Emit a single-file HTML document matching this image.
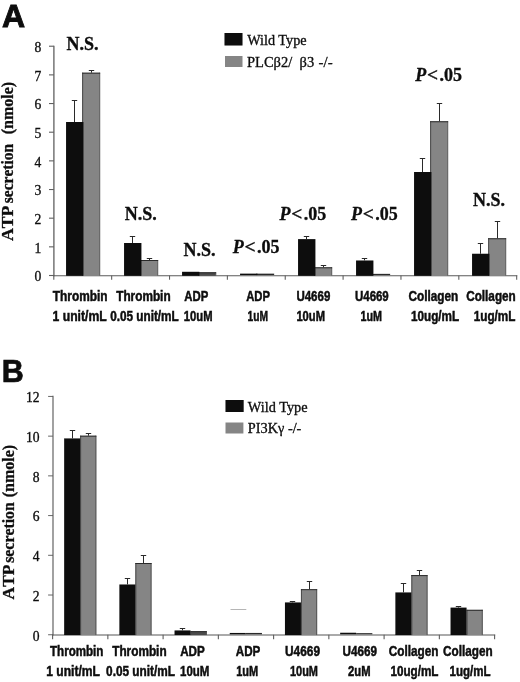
<!DOCTYPE html>
<html><head><meta charset="utf-8"><title>ATP secretion</title>
<style>html,body{margin:0;padding:0;background:#fff;}body{width:520px;height:682px;overflow:hidden;}svg{display:block;}text{fill:#0a0a0a;}.sans{font-family:"Liberation Sans",sans-serif;stroke:#0a0a0a;stroke-width:0.45px;}.serif{font-family:"Liberation Serif",serif;stroke:#0a0a0a;stroke-width:0.28px;}</style>
</head><body>
<svg width="520" height="682" viewBox="0 0 520 682">
<rect x="0" y="0" width="520" height="682" fill="#ffffff"/>
<defs><filter id="soft" x="0" y="0" width="520" height="682" filterUnits="userSpaceOnUse"><feGaussianBlur stdDeviation="0.45"/></filter></defs>
<g filter="url(#soft)">
<text x="1.9" y="27" class="sans" font-size="32" font-weight="bold" font-style="normal" text-anchor="start" style="stroke-width:0.9px">A</text>
<text x="1.7" y="381.5" class="sans" font-size="32" font-weight="bold" font-style="normal" text-anchor="start" textLength="22" lengthAdjust="spacingAndGlyphs" style="stroke-width:0.7px">B</text>
<line x1="53.9" x2="53.9" y1="45.699999999999996" y2="276.2" stroke="#606060" stroke-width="1.3"/>
<line x1="49.0" x2="53.9" y1="275.5" y2="275.5" stroke="#606060" stroke-width="1.1"/>
<text x="41.3" y="281.2" class="serif" font-size="13.6" font-weight="normal" font-style="normal" text-anchor="end">0</text>
<line x1="49.0" x2="53.9" y1="246.84" y2="246.84" stroke="#606060" stroke-width="1.1"/>
<text x="41.3" y="252.54" class="serif" font-size="13.6" font-weight="normal" font-style="normal" text-anchor="end">1</text>
<line x1="49.0" x2="53.9" y1="218.18" y2="218.18" stroke="#606060" stroke-width="1.1"/>
<text x="41.3" y="223.88" class="serif" font-size="13.6" font-weight="normal" font-style="normal" text-anchor="end">2</text>
<line x1="49.0" x2="53.9" y1="189.52" y2="189.52" stroke="#606060" stroke-width="1.1"/>
<text x="41.3" y="195.22" class="serif" font-size="13.6" font-weight="normal" font-style="normal" text-anchor="end">3</text>
<line x1="49.0" x2="53.9" y1="160.86" y2="160.86" stroke="#606060" stroke-width="1.1"/>
<text x="41.3" y="166.56" class="serif" font-size="13.6" font-weight="normal" font-style="normal" text-anchor="end">4</text>
<line x1="49.0" x2="53.9" y1="132.2" y2="132.2" stroke="#606060" stroke-width="1.1"/>
<text x="41.3" y="137.9" class="serif" font-size="13.6" font-weight="normal" font-style="normal" text-anchor="end">5</text>
<line x1="49.0" x2="53.9" y1="103.54" y2="103.54" stroke="#606060" stroke-width="1.1"/>
<text x="41.3" y="109.24" class="serif" font-size="13.6" font-weight="normal" font-style="normal" text-anchor="end">6</text>
<line x1="49.0" x2="53.9" y1="74.88" y2="74.88" stroke="#606060" stroke-width="1.1"/>
<text x="41.3" y="80.58" class="serif" font-size="13.6" font-weight="normal" font-style="normal" text-anchor="end">7</text>
<line x1="49.0" x2="53.9" y1="46.22" y2="46.22" stroke="#606060" stroke-width="1.1"/>
<text x="41.3" y="51.92" class="serif" font-size="13.6" font-weight="normal" font-style="normal" text-anchor="end">8</text>
<line x1="53.199999999999996" x2="517.28" y1="275.7" y2="275.7" stroke="#5a5a5a" stroke-width="1.05"/>
<line x1="53.8" x2="53.8" y1="275.5" y2="279.7" stroke="#606060" stroke-width="1.1"/>
<line x1="111.66" x2="111.66" y1="275.5" y2="279.7" stroke="#606060" stroke-width="1.1"/>
<line x1="169.52" x2="169.52" y1="275.5" y2="279.7" stroke="#606060" stroke-width="1.1"/>
<line x1="227.38" x2="227.38" y1="275.5" y2="279.7" stroke="#606060" stroke-width="1.1"/>
<line x1="285.24" x2="285.24" y1="275.5" y2="279.7" stroke="#606060" stroke-width="1.1"/>
<line x1="343.1" x2="343.1" y1="275.5" y2="279.7" stroke="#606060" stroke-width="1.1"/>
<line x1="400.96" x2="400.96" y1="275.5" y2="279.7" stroke="#606060" stroke-width="1.1"/>
<line x1="458.82" x2="458.82" y1="275.5" y2="279.7" stroke="#606060" stroke-width="1.1"/>
<line x1="516.68" x2="516.68" y1="275.5" y2="279.7" stroke="#606060" stroke-width="1.1"/>
<rect x="82.15" y="72.7" width="18.0" height="203.1" fill="#858585"/>
<line x1="82.65" x2="82.65" y1="275.8" y2="72.7" stroke="#4a4a4a" stroke-width="1"/>
<line x1="99.65" x2="99.65" y1="275.8" y2="72.7" stroke="#626262" stroke-width="0.9"/>
<line x1="82.15" x2="100.15" y1="73.2" y2="73.2" stroke="#2b2b2b" stroke-width="1"/>
<rect x="66.05" y="122.0" width="17.35" height="153.8" fill="#0c0c0c"/>
<path d="M74.5 122.0 V100.5 M71.8 100.5 H77.2" fill="none" stroke="#2a2a2a" stroke-width="1"/>
<path d="M91.5 72.7 V70.5 M88.8 70.5 H94.2" fill="none" stroke="#2a2a2a" stroke-width="1"/>
<rect x="140.15" y="260.0" width="18.0" height="15.8" fill="#858585"/>
<line x1="140.65" x2="140.65" y1="275.8" y2="260.0" stroke="#4a4a4a" stroke-width="1"/>
<line x1="157.65" x2="157.65" y1="275.8" y2="260.0" stroke="#626262" stroke-width="0.9"/>
<line x1="140.15" x2="158.15" y1="260.5" y2="260.5" stroke="#2b2b2b" stroke-width="1"/>
<rect x="124.05" y="243.0" width="17.35" height="32.8" fill="#0c0c0c"/>
<path d="M132.5 243.0 V236.5 M129.8 236.5 H135.2" fill="none" stroke="#2a2a2a" stroke-width="1"/>
<path d="M149.5 260.0 V258.5 M146.8 258.5 H152.2" fill="none" stroke="#2a2a2a" stroke-width="1"/>
<rect x="198.15" y="272.3" width="18.0" height="3.5" fill="#4c4c4c"/>
<line x1="198.65" x2="198.65" y1="275.8" y2="272.3" stroke="#4a4a4a" stroke-width="1"/>
<line x1="215.65" x2="215.65" y1="275.8" y2="272.3" stroke="#626262" stroke-width="0.9"/>
<line x1="198.15" x2="216.15" y1="272.8" y2="272.8" stroke="#2b2b2b" stroke-width="1"/>
<rect x="182.05" y="271.8" width="17.35" height="4.0" fill="#0c0c0c"/>
<rect x="256.15" y="273.65" width="18.0" height="1.4" fill="#2a2a2a"/>
<rect x="240.05" y="273.65" width="17.35" height="1.4" fill="#0c0c0c"/>
<rect x="314.15" y="267.3" width="18.0" height="8.5" fill="#858585"/>
<line x1="314.65" x2="314.65" y1="275.8" y2="267.3" stroke="#4a4a4a" stroke-width="1"/>
<line x1="331.65" x2="331.65" y1="275.8" y2="267.3" stroke="#626262" stroke-width="0.9"/>
<line x1="314.15" x2="332.15" y1="267.8" y2="267.8" stroke="#2b2b2b" stroke-width="1"/>
<rect x="298.05" y="239.1" width="17.35" height="36.7" fill="#0c0c0c"/>
<path d="M306.5 239.1 V236.5 M303.8 236.5 H309.2" fill="none" stroke="#2a2a2a" stroke-width="1"/>
<path d="M323.5 267.3 V265.5 M320.8 265.5 H326.2" fill="none" stroke="#2a2a2a" stroke-width="1"/>
<rect x="372.15" y="273.85" width="18.0" height="1.2" fill="#2a2a2a"/>
<rect x="356.05" y="260.5" width="17.35" height="15.3" fill="#0c0c0c"/>
<path d="M364.5 260.5 V258.5 M361.8 258.5 H367.2" fill="none" stroke="#2a2a2a" stroke-width="1"/>
<rect x="430.15" y="121.25" width="18.0" height="154.55" fill="#858585"/>
<line x1="430.65" x2="430.65" y1="275.8" y2="121.25" stroke="#4a4a4a" stroke-width="1"/>
<line x1="447.65" x2="447.65" y1="275.8" y2="121.25" stroke="#626262" stroke-width="0.9"/>
<line x1="430.15" x2="448.15" y1="121.75" y2="121.75" stroke="#2b2b2b" stroke-width="1"/>
<rect x="414.05" y="172.0" width="17.35" height="103.8" fill="#0c0c0c"/>
<path d="M422.5 172.0 V158.5 M419.8 158.5 H425.2" fill="none" stroke="#2a2a2a" stroke-width="1"/>
<path d="M439.5 121.25 V103.5 M436.8 103.5 H442.2" fill="none" stroke="#2a2a2a" stroke-width="1"/>
<rect x="488.15" y="238.25" width="18.0" height="37.55" fill="#858585"/>
<line x1="488.65" x2="488.65" y1="275.8" y2="238.25" stroke="#4a4a4a" stroke-width="1"/>
<line x1="505.65" x2="505.65" y1="275.8" y2="238.25" stroke="#626262" stroke-width="0.9"/>
<line x1="488.15" x2="506.15" y1="238.75" y2="238.75" stroke="#2b2b2b" stroke-width="1"/>
<rect x="472.05" y="253.75" width="17.35" height="22.05" fill="#0c0c0c"/>
<path d="M480.5 253.75 V243.5 M477.8 243.5 H483.2" fill="none" stroke="#2a2a2a" stroke-width="1"/>
<path d="M497.5 238.25 V221.5 M494.8 221.5 H500.2" fill="none" stroke="#2a2a2a" stroke-width="1"/>
<text x="52.8" y="300.5" class="sans" font-size="14" font-weight="bold" font-style="normal" text-anchor="start" textLength="54.7" lengthAdjust="spacingAndGlyphs">Thrombin</text>
<text x="52.6" y="320.5" class="sans" font-size="14" font-weight="bold" font-style="normal" text-anchor="start" textLength="54.1" lengthAdjust="spacingAndGlyphs">1 unit/mL</text>
<text x="116.2" y="300.5" class="sans" font-size="14" font-weight="bold" font-style="normal" text-anchor="start" textLength="54.4" lengthAdjust="spacingAndGlyphs">Thrombin</text>
<text x="110.2" y="320.5" class="sans" font-size="14" font-weight="bold" font-style="normal" text-anchor="start" textLength="68.5" lengthAdjust="spacingAndGlyphs">0.05 unit/mL</text>
<text x="184.3" y="300.5" class="sans" font-size="14" font-weight="bold" font-style="normal" text-anchor="start" textLength="24.0" lengthAdjust="spacingAndGlyphs">ADP</text>
<text x="183.75" y="320.5" class="sans" font-size="14" font-weight="bold" font-style="normal" text-anchor="start" textLength="28.75" lengthAdjust="spacingAndGlyphs">10uM</text>
<text x="246.25" y="300.5" class="sans" font-size="14" font-weight="bold" font-style="normal" text-anchor="start" textLength="23.75" lengthAdjust="spacingAndGlyphs">ADP</text>
<text x="247.5" y="320.5" class="sans" font-size="14" font-weight="bold" font-style="normal" text-anchor="start" textLength="20.5" lengthAdjust="spacingAndGlyphs">1uM</text>
<text x="296.4" y="300.5" class="sans" font-size="14" font-weight="bold" font-style="normal" text-anchor="start" textLength="33.9" lengthAdjust="spacingAndGlyphs">U4669</text>
<text x="296.4" y="320.5" class="sans" font-size="14" font-weight="bold" font-style="normal" text-anchor="start" textLength="28.6" lengthAdjust="spacingAndGlyphs">10uM</text>
<text x="355" y="300.5" class="sans" font-size="14" font-weight="bold" font-style="normal" text-anchor="start" textLength="33.75" lengthAdjust="spacingAndGlyphs">U4669</text>
<text x="360.5" y="320.5" class="sans" font-size="14" font-weight="bold" font-style="normal" text-anchor="start" textLength="21.5" lengthAdjust="spacingAndGlyphs">1uM</text>
<text x="408.5" y="300.5" class="sans" font-size="14" font-weight="bold" font-style="normal" text-anchor="start" textLength="49.7" lengthAdjust="spacingAndGlyphs">Collagen</text>
<text x="411.0" y="320.5" class="sans" font-size="14" font-weight="bold" font-style="normal" text-anchor="start" textLength="48.2" lengthAdjust="spacingAndGlyphs">10ug/mL</text>
<text x="466.2" y="300.5" class="sans" font-size="14" font-weight="bold" font-style="normal" text-anchor="start" textLength="49.6" lengthAdjust="spacingAndGlyphs">Collagen</text>
<text x="473.7" y="320.5" class="sans" font-size="14" font-weight="bold" font-style="normal" text-anchor="start" textLength="41.7" lengthAdjust="spacingAndGlyphs">1ug/mL</text>
<line x1="53.0" x2="53.0" y1="395.79999999999995" y2="635.45" stroke="#5e5e5e" stroke-width="1.15"/>
<line x1="48.1" x2="53.0" y1="634.75" y2="634.75" stroke="#5e5e5e" stroke-width="0.95"/>
<text x="39.6" y="640.55" class="serif" font-size="13.6" font-weight="normal" font-style="normal" text-anchor="end">0</text>
<line x1="48.1" x2="53.0" y1="595.03" y2="595.03" stroke="#5e5e5e" stroke-width="0.95"/>
<text x="39.6" y="600.83" class="serif" font-size="13.6" font-weight="normal" font-style="normal" text-anchor="end">2</text>
<line x1="48.1" x2="53.0" y1="555.31" y2="555.31" stroke="#5e5e5e" stroke-width="0.95"/>
<text x="39.6" y="561.11" class="serif" font-size="13.6" font-weight="normal" font-style="normal" text-anchor="end">4</text>
<line x1="48.1" x2="53.0" y1="515.59" y2="515.59" stroke="#5e5e5e" stroke-width="0.95"/>
<text x="39.6" y="521.39" class="serif" font-size="13.6" font-weight="normal" font-style="normal" text-anchor="end">6</text>
<line x1="48.1" x2="53.0" y1="475.87" y2="475.87" stroke="#5e5e5e" stroke-width="0.95"/>
<text x="39.6" y="481.67" class="serif" font-size="13.6" font-weight="normal" font-style="normal" text-anchor="end">8</text>
<line x1="48.1" x2="53.0" y1="436.15" y2="436.15" stroke="#5e5e5e" stroke-width="0.95"/>
<text x="39.6" y="441.95" class="serif" font-size="13.6" font-weight="normal" font-style="normal" text-anchor="end">10</text>
<line x1="48.1" x2="53.0" y1="396.43" y2="396.43" stroke="#5e5e5e" stroke-width="0.95"/>
<text x="39.6" y="402.23" class="serif" font-size="13.6" font-weight="normal" font-style="normal" text-anchor="end">12</text>
<line x1="52.3" x2="495.20000000000005" y1="634.95" y2="634.95" stroke="#585858" stroke-width="1.05"/>
<line x1="52.6" x2="52.6" y1="634.75" y2="639.35" stroke="#5e5e5e" stroke-width="1.1"/>
<line x1="107.85" x2="107.85" y1="634.75" y2="639.35" stroke="#5e5e5e" stroke-width="1.1"/>
<line x1="163.1" x2="163.1" y1="634.75" y2="639.35" stroke="#5e5e5e" stroke-width="1.1"/>
<line x1="218.35" x2="218.35" y1="634.75" y2="639.35" stroke="#5e5e5e" stroke-width="1.1"/>
<line x1="273.6" x2="273.6" y1="634.75" y2="639.35" stroke="#5e5e5e" stroke-width="1.1"/>
<line x1="328.85" x2="328.85" y1="634.75" y2="639.35" stroke="#5e5e5e" stroke-width="1.1"/>
<line x1="384.1" x2="384.1" y1="634.75" y2="639.35" stroke="#5e5e5e" stroke-width="1.1"/>
<line x1="439.35" x2="439.35" y1="634.75" y2="639.35" stroke="#5e5e5e" stroke-width="1.1"/>
<line x1="494.6" x2="494.6" y1="634.75" y2="639.35" stroke="#5e5e5e" stroke-width="1.1"/>
<rect x="80.15" y="435.7" width="16.2" height="199.35" fill="#858585"/>
<line x1="80.65" x2="80.65" y1="635.05" y2="435.7" stroke="#4a4a4a" stroke-width="1"/>
<line x1="95.85" x2="95.85" y1="635.05" y2="435.7" stroke="#505050" stroke-width="0.9"/>
<line x1="80.15" x2="96.35000000000001" y1="436.2" y2="436.2" stroke="#2b2b2b" stroke-width="1"/>
<rect x="64.15" y="438.4" width="16.0" height="196.65" fill="#0c0c0c"/>
<path d="M72.5 438.4 V430.5 M69.8 430.5 H75.2" fill="none" stroke="#2a2a2a" stroke-width="1"/>
<path d="M88.5 435.7 V433.5 M85.8 433.5 H91.2" fill="none" stroke="#2a2a2a" stroke-width="1"/>
<rect x="135.35" y="563.0" width="16.2" height="72.05" fill="#858585"/>
<line x1="135.85" x2="135.85" y1="635.05" y2="563.0" stroke="#4a4a4a" stroke-width="1"/>
<line x1="151.05" x2="151.05" y1="635.05" y2="563.0" stroke="#505050" stroke-width="0.9"/>
<line x1="135.35" x2="151.54999999999998" y1="563.5" y2="563.5" stroke="#2b2b2b" stroke-width="1"/>
<rect x="119.35" y="584.5" width="16.0" height="50.55" fill="#0c0c0c"/>
<path d="M127.5 584.5 V578.5 M124.8 578.5 H130.2" fill="none" stroke="#2a2a2a" stroke-width="1"/>
<path d="M143.5 563.0 V555.5 M140.8 555.5 H146.2" fill="none" stroke="#2a2a2a" stroke-width="1"/>
<rect x="190.55" y="631.2" width="16.2" height="3.85" fill="#4c4c4c"/>
<line x1="191.05" x2="191.05" y1="635.05" y2="631.2" stroke="#4a4a4a" stroke-width="1"/>
<line x1="206.25" x2="206.25" y1="635.05" y2="631.2" stroke="#505050" stroke-width="0.9"/>
<line x1="190.55" x2="206.75" y1="631.7" y2="631.7" stroke="#2b2b2b" stroke-width="1"/>
<rect x="174.55" y="630.45" width="16.0" height="4.6" fill="#0c0c0c"/>
<path d="M182.5 630.45 V628.5 M179.8 628.5 H185.2" fill="none" stroke="#2a2a2a" stroke-width="1"/>
<rect x="245.75" y="632.95" width="16.2" height="1.35" fill="#2a2a2a"/>
<rect x="229.75" y="632.95" width="16.0" height="1.35" fill="#0c0c0c"/>
<rect x="300.95" y="589.2" width="16.2" height="45.85" fill="#858585"/>
<line x1="301.45" x2="301.45" y1="635.05" y2="589.2" stroke="#4a4a4a" stroke-width="1"/>
<line x1="316.65" x2="316.65" y1="635.05" y2="589.2" stroke="#505050" stroke-width="0.9"/>
<line x1="300.95" x2="317.15" y1="589.7" y2="589.7" stroke="#2b2b2b" stroke-width="1"/>
<rect x="284.95" y="602.45" width="16.0" height="32.6" fill="#0c0c0c"/>
<path d="M292.5 602.45 V601.5 M289.8 601.5 H295.2" fill="none" stroke="#2a2a2a" stroke-width="1"/>
<path d="M309.5 589.2 V581.5 M306.8 581.5 H312.2" fill="none" stroke="#2a2a2a" stroke-width="1"/>
<rect x="356.15" y="633.15" width="16.2" height="1.15" fill="#2a2a2a"/>
<rect x="340.15" y="632.75" width="16.0" height="1.55" fill="#0c0c0c"/>
<rect x="411.35" y="575.1" width="16.2" height="59.95" fill="#858585"/>
<line x1="411.85" x2="411.85" y1="635.05" y2="575.1" stroke="#4a4a4a" stroke-width="1"/>
<line x1="427.05" x2="427.05" y1="635.05" y2="575.1" stroke="#505050" stroke-width="0.9"/>
<line x1="411.35" x2="427.55" y1="575.6" y2="575.6" stroke="#2b2b2b" stroke-width="1"/>
<rect x="395.35" y="592.45" width="16.0" height="42.6" fill="#0c0c0c"/>
<path d="M403.5 592.45 V583.5 M400.8 583.5 H406.2" fill="none" stroke="#2a2a2a" stroke-width="1"/>
<path d="M419.5 575.1 V570.5 M416.8 570.5 H422.2" fill="none" stroke="#2a2a2a" stroke-width="1"/>
<rect x="466.55" y="609.8" width="16.2" height="25.25" fill="#858585"/>
<line x1="467.05" x2="467.05" y1="635.05" y2="609.8" stroke="#4a4a4a" stroke-width="1"/>
<line x1="482.25" x2="482.25" y1="635.05" y2="609.8" stroke="#505050" stroke-width="0.9"/>
<line x1="466.55" x2="482.75" y1="610.3" y2="610.3" stroke="#2b2b2b" stroke-width="1"/>
<rect x="450.55" y="607.6" width="16.0" height="27.45" fill="#0c0c0c"/>
<path d="M458.5 607.6 V606.5 M455.8 606.5 H461.2" fill="none" stroke="#2a2a2a" stroke-width="1"/>
<text x="50.0" y="655.8" class="sans" font-size="14" font-weight="bold" font-style="normal" text-anchor="start" textLength="53.4" lengthAdjust="spacingAndGlyphs">Thrombin</text>
<text x="46.25" y="676.2" class="sans" font-size="14" font-weight="bold" font-style="normal" text-anchor="start" textLength="53.75" lengthAdjust="spacingAndGlyphs">1 unit/mL</text>
<text x="112.2" y="655.8" class="sans" font-size="14" font-weight="bold" font-style="normal" text-anchor="start" textLength="54.4" lengthAdjust="spacingAndGlyphs">Thrombin</text>
<text x="106.1" y="676.2" class="sans" font-size="14" font-weight="bold" font-style="normal" text-anchor="start" textLength="68.9" lengthAdjust="spacingAndGlyphs">0.05 unit/mL</text>
<text x="180.2" y="655.8" class="sans" font-size="14" font-weight="bold" font-style="normal" text-anchor="start" textLength="24.6" lengthAdjust="spacingAndGlyphs">ADP</text>
<text x="180.0" y="676.2" class="sans" font-size="14" font-weight="bold" font-style="normal" text-anchor="start" textLength="29.4" lengthAdjust="spacingAndGlyphs">10uM</text>
<text x="235.8" y="655.8" class="sans" font-size="14" font-weight="bold" font-style="normal" text-anchor="start" textLength="24.6" lengthAdjust="spacingAndGlyphs">ADP</text>
<text x="236.2" y="676.2" class="sans" font-size="14" font-weight="bold" font-style="normal" text-anchor="start" textLength="22.0" lengthAdjust="spacingAndGlyphs">1uM</text>
<text x="285.0" y="655.8" class="sans" font-size="14" font-weight="bold" font-style="normal" text-anchor="start" textLength="35.0" lengthAdjust="spacingAndGlyphs">U4669</text>
<text x="290" y="676.2" class="sans" font-size="14" font-weight="bold" font-style="normal" text-anchor="start" textLength="28" lengthAdjust="spacingAndGlyphs">10uM</text>
<text x="342.5" y="655.8" class="sans" font-size="14" font-weight="bold" font-style="normal" text-anchor="start" textLength="34.5" lengthAdjust="spacingAndGlyphs">U4669</text>
<text x="348" y="676.2" class="sans" font-size="14" font-weight="bold" font-style="normal" text-anchor="start" textLength="22.5" lengthAdjust="spacingAndGlyphs">2uM</text>
<text x="388.7" y="655.8" class="sans" font-size="14" font-weight="bold" font-style="normal" text-anchor="start" textLength="49.8" lengthAdjust="spacingAndGlyphs">Collagen</text>
<text x="390.5" y="676.2" class="sans" font-size="14" font-weight="bold" font-style="normal" text-anchor="start" textLength="48.0" lengthAdjust="spacingAndGlyphs">10ug/mL</text>
<text x="443.0" y="655.8" class="sans" font-size="14" font-weight="bold" font-style="normal" text-anchor="start" textLength="49.6" lengthAdjust="spacingAndGlyphs">Collagen</text>
<text x="449.6" y="676.2" class="sans" font-size="14" font-weight="bold" font-style="normal" text-anchor="start" textLength="41.0" lengthAdjust="spacingAndGlyphs">1ug/mL</text>
<text transform="translate(13.4,241.0) rotate(-90)" class="serif" font-size="16" font-weight="bold" style="font-kerning:none" textLength="35.4" lengthAdjust="spacingAndGlyphs">ATP</text>
<text transform="translate(13.4,203.2) rotate(-90)" class="serif" font-size="16" font-weight="bold" style="font-kerning:none" textLength="59.4" lengthAdjust="spacingAndGlyphs">secretion</text>
<text transform="translate(13.4,134.2) rotate(-90)" class="serif" font-size="16" font-weight="bold" style="font-kerning:none" textLength="52.4" lengthAdjust="spacingAndGlyphs">(nmole)</text>
<text transform="translate(14.0,599.4) rotate(-90)" class="serif" font-size="16" font-weight="bold" style="font-kerning:none" textLength="34.7" lengthAdjust="spacingAndGlyphs">ATP</text>
<text transform="translate(14.0,562.8) rotate(-90)" class="serif" font-size="16" font-weight="bold" style="font-kerning:none" textLength="60.6" lengthAdjust="spacingAndGlyphs">secretion</text>
<text transform="translate(14.0,497.2) rotate(-90)" class="serif" font-size="16" font-weight="bold" style="font-kerning:none" textLength="52.4" lengthAdjust="spacingAndGlyphs">(nmole)</text>
<rect x="224.5" y="33" width="18" height="12.5" fill="#0c0c0c"/>
<rect x="225" y="56" width="17.5" height="11" fill="#858585"/>
<text x="247.2" y="45" class="serif" font-size="14" font-weight="normal" font-style="normal" text-anchor="start" textLength="59.4" lengthAdjust="spacingAndGlyphs">Wild Type</text>
<text y="67" class="serif" font-size="14"><tspan x="247" textLength="45.3" lengthAdjust="spacingAndGlyphs">PLCβ2/</tspan><tspan x="299.6" textLength="14.6" lengthAdjust="spacingAndGlyphs">β3</tspan><tspan x="318.6" textLength="14" lengthAdjust="spacingAndGlyphs">-/-</tspan></text>
<rect x="225.5" y="400" width="18.2" height="12" fill="#0c0c0c"/>
<rect x="225.5" y="422.5" width="17.9" height="11" fill="#858585"/>
<text x="247.8" y="411.6" class="serif" font-size="14" font-weight="normal" font-style="normal" text-anchor="start" textLength="59.8" lengthAdjust="spacingAndGlyphs">Wild Type</text>
<text x="247.8" y="433.1" class="serif" font-size="14" font-weight="normal" font-style="normal" text-anchor="start" textLength="53.6" lengthAdjust="spacingAndGlyphs">PI3Kγ -/-</text>
<text x="66.6" y="50.25" class="serif" font-size="18" font-weight="bold" font-style="normal" text-anchor="start">N.S.</text>
<text x="124.7" y="220" class="serif" font-size="18" font-weight="bold" font-style="normal" text-anchor="start">N.S.</text>
<text x="183.45" y="255.75" class="serif" font-size="18" font-weight="bold" font-style="normal" text-anchor="start">N.S.</text>
<text x="473.1" y="205.6" class="serif" font-size="18" font-weight="bold" font-style="normal" text-anchor="start">N.S.</text>
<text y="253.25" class="serif" font-size="18" font-weight="bold"><tspan x="232.7" font-style="italic">P</tspan><tspan x="244.4" font-size="19.5">&lt;</tspan><tspan x="256.9">.05</tspan></text>
<text y="220" class="serif" font-size="18" font-weight="bold"><tspan x="279.5" font-style="italic">P</tspan><tspan x="291.2" font-size="19.5">&lt;</tspan><tspan x="303.7">.05</tspan></text>
<text y="220" class="serif" font-size="18" font-weight="bold"><tspan x="350.95" font-style="italic">P</tspan><tspan x="362.65" font-size="19.5">&lt;</tspan><tspan x="375.15">.05</tspan></text>
<text y="81" class="serif" font-size="18" font-weight="bold"><tspan x="415.2" font-style="italic">P</tspan><tspan x="426.9" font-size="19.5">&lt;</tspan><tspan x="439.4">.05</tspan></text>
<line x1="230.5" x2="246.3" y1="609.5" y2="609.5" stroke="#b5b5b5" stroke-width="1"/>
</g>
</svg></body></html>
